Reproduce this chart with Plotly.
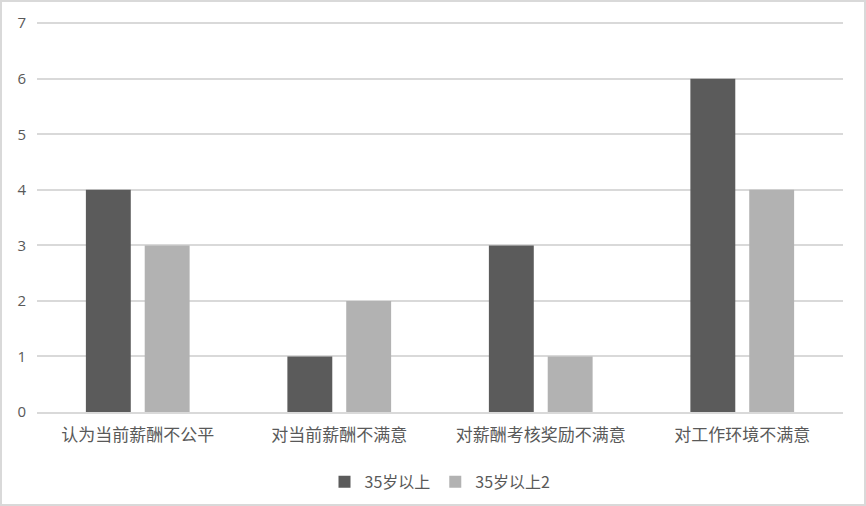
import plotly.graph_objects as go

# data
categories = ["认为当前薪酬不公平", "对当前薪酬不满意", "对薪酬考核奖励不满意", "对工作环境不满意"]
series_a = [4, 1, 3, 6]
series_b = [3, 2, 1, 4]
names = ["35岁以上", "35岁以上2"]
y_ticks = [0, 1, 2, 3, 4, 5, 6, 7]

W, H = 866, 506
L, R, T, B = 37, 23, 21, 94
pw = W - L - R
ph = H - T - B

fig = go.Figure()
fig.add_trace(go.Bar(x=categories, y=series_a, name=names[0], marker=dict(color="#5b5b5b", line_width=0)))
fig.add_trace(go.Bar(x=categories, y=series_b, name=names[1], marker=dict(color="#b2b2b2", line_width=0)))

fig.update_layout(
    width=W, height=H,
    margin=dict(l=L, r=R, t=T, b=B, autoexpand=False),
    paper_bgcolor="white", plot_bgcolor="white",
    barmode="group", bargap=0.416, bargroupgap=0.237,
    font=dict(family="Noto Sans CJK SC", color="#595959", size=14),
    showlegend=True,
    legend=dict(orientation="h", x=0.5, xanchor="center", y=-0.135, yanchor="top",
                bgcolor="rgba(0,0,0,0)", font=dict(size=16, color="#595959"),
                itemwidth=30, traceorder="normal", tracegroupgap=0),
    xaxis=dict(showgrid=False, showline=True, linecolor="#d9d9d9", linewidth=2, automargin=False,
               ticks="", tickfont=dict(size=17, color="#595959"), ticklabelstandoff=7),
    yaxis=dict(range=[0, 7.04], tickvals=y_ticks, showgrid=True, gridcolor="#d9d9d9", gridwidth=1.5,
               zeroline=False, showline=False, ticks="", automargin=False,
               tickfont=dict(size=15, color="#595959", family="Open Sans"), ticklabelstandoff=10),
    shapes=[dict(type="rect", xref="paper", yref="paper",
                 x0=-(L - 1) / pw, x1=1 + (R - 1) / pw, y0=-(B - 1) / ph, y1=1 + (T - 1) / ph,
                 line=dict(color="#d9d9d9", width=2), fillcolor="rgba(0,0,0,0)", layer="below")],
)

fig.write_html("out.html", config={"displayModeBar": False},
               post_script="document.body.style.margin='0';")
